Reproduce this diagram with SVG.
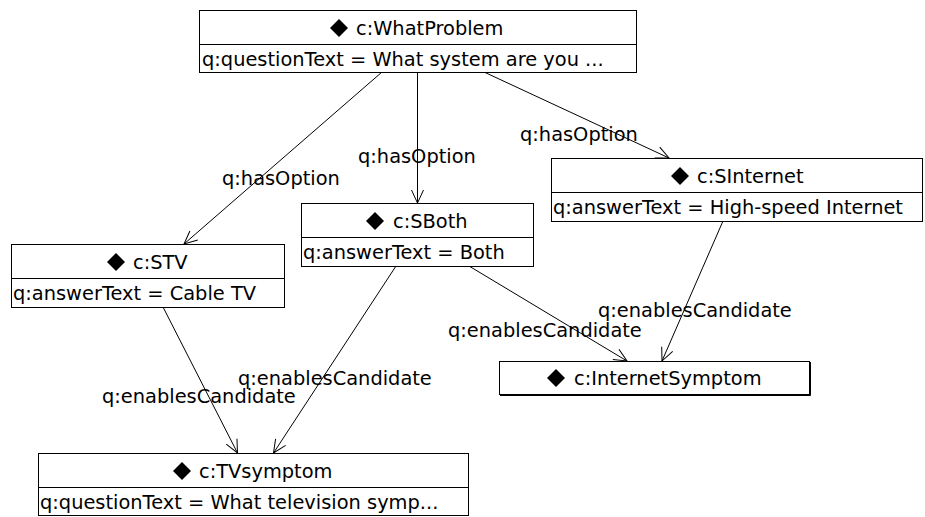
<svg xmlns="http://www.w3.org/2000/svg" width="925" height="517" viewBox="0 0 925 517">
  <style>
    text { font-family: "DejaVu Sans", "Liberation Sans", sans-serif; font-size: 19.4px; fill: #000; }
    .box { fill: #fff; stroke: #000; stroke-width: 1; }
    .sep { stroke: #000; stroke-width: 1; }
    .dia { fill: #000; }
    .edge { fill: none; stroke: #000; stroke-width: 1; marker-end: url(#open); }
  </style>
  <defs>
    <marker id="open" markerUnits="userSpaceOnUse" markerWidth="20" markerHeight="16" refX="14" refY="7" orient="auto">
      <path d="M1,1 L14,7 L1,13" fill="none" stroke="#000" stroke-width="1"/>
    </marker>
  </defs>
  <rect width="925" height="517" fill="#fff"/>

  <!-- connectors -->
  <g id="connectors">
    <line class="edge" x1="382" y1="72" x2="184" y2="244"/>
    <line class="edge" x1="417.5" y1="72" x2="417.5" y2="203"/>
    <line class="edge" x1="484" y1="72" x2="669" y2="158"/>
    <line class="edge" x1="163" y1="307" x2="237.5" y2="453"/>
    <line class="edge" x1="396" y1="266" x2="273.5" y2="453"/>
    <line class="edge" x1="469" y1="266" x2="627" y2="361"/>
    <line class="edge" x1="723" y1="221" x2="662" y2="361"/>
    <text x="222" y="185">q:hasOption</text>
    <text x="358" y="163">q:hasOption</text>
    <text x="520" y="141">q:hasOption</text>
    <text x="102" y="403">q:enablesCandidate</text>
    <text x="238" y="385">q:enablesCandidate</text>
    <text x="448" y="337">q:enablesCandidate</text>
    <text x="598" y="317">q:enablesCandidate</text>
  </g>

  <!-- c:WhatProblem -->
  <g id="WhatProblem">
    <rect class="box" x="199.5" y="10.5" width="437" height="62"/>
    <line class="sep" x1="199.5" y1="44.5" x2="636.5" y2="44.5"/>
    <path class="dia" d="M339,19 L348,28 L339,37 L330,28 Z"/>
    <text x="356" y="35">c:WhatProblem</text>
    <text x="202" y="66">q:questionText = What system are you ...</text>
  </g>

  <!-- c:STV -->
  <g id="STV">
    <rect class="box" x="11.5" y="244.5" width="273" height="63"/>
    <line class="sep" x1="11.5" y1="278.5" x2="284.5" y2="278.5"/>
    <path class="dia" d="M116,253 L125,262 L116,271 L107,262 Z"/>
    <text x="133" y="269">c:STV</text>
    <text x="13" y="300">q:answerText = Cable TV</text>
  </g>

  <!-- c:SBoth -->
  <g id="SBoth">
    <rect class="box" x="301.5" y="203.5" width="232" height="63"/>
    <line class="sep" x1="301.5" y1="237.5" x2="533.5" y2="237.5"/>
    <path class="dia" d="M375,212 L384,221 L375,230 L366,221 Z"/>
    <text x="393" y="228">c:SBoth</text>
    <text x="303" y="259">q:answerText = Both</text>
  </g>

  <!-- c:SInternet -->
  <g id="SInternet">
    <rect class="box" x="551.5" y="158.5" width="371" height="63"/>
    <line class="sep" x1="551.5" y1="192.5" x2="922.5" y2="192.5"/>
    <path class="dia" d="M680,167 L689,176 L680,185 L671,176 Z"/>
    <text x="697" y="183">c:SInternet</text>
    <text x="553" y="214">q:answerText = High-speed Internet</text>
  </g>

  <!-- c:InternetSymptom -->
  <g id="InternetSymptom">
    <rect class="box" x="499.5" y="361.5" width="310" height="33"/>
    <path d="M810.5,362 V395.5 H500" fill="none" stroke="#000" stroke-width="1"/>
    <path class="dia" d="M556,369 L565,378 L556,387 L547,378 Z"/>
    <text x="574" y="385">c:InternetSymptom</text>
  </g>

  <!-- c:TVsymptom -->
  <g id="TVsymptom">
    <rect class="box" x="38.5" y="453.5" width="430" height="62"/>
    <line class="sep" x1="38.5" y1="487.5" x2="468.5" y2="487.5"/>
    <path class="dia" d="M182,462 L191,471 L182,480 L173,471 Z"/>
    <text x="199" y="478">c:TVsymptom</text>
    <text x="40" y="509">q:questionText = What television symp...</text>
  </g>
</svg>
